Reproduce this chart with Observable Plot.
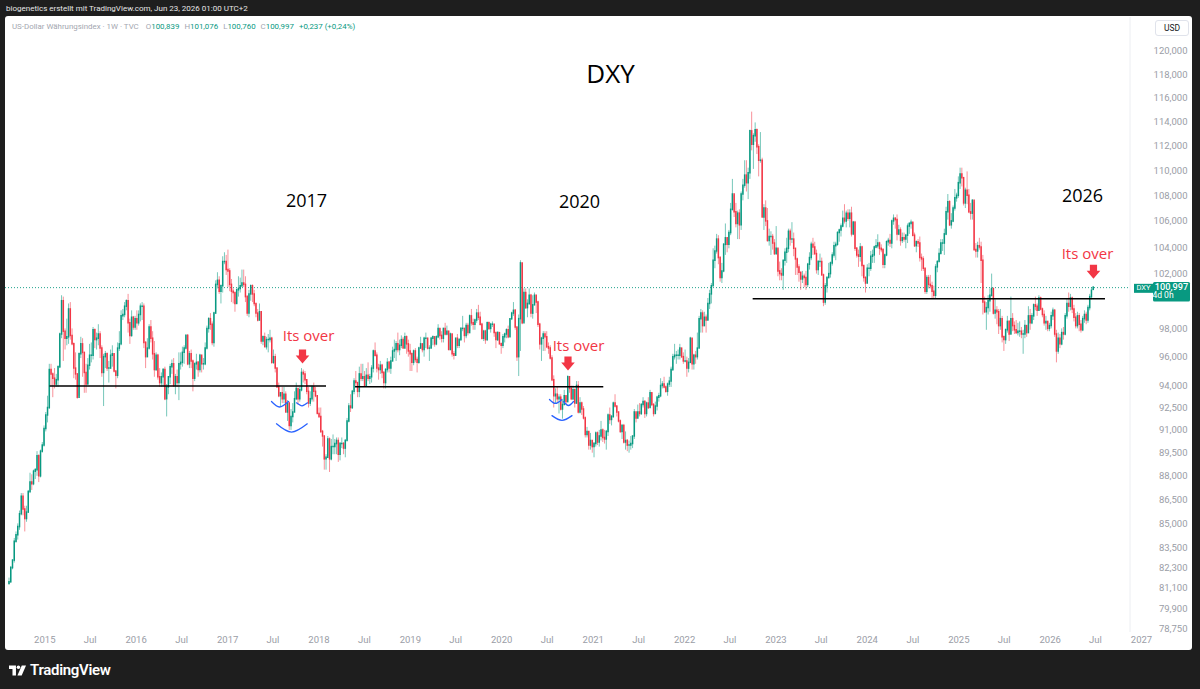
<!DOCTYPE html>
<html><head><meta charset="utf-8">
<script src="https://cdn.jsdelivr.net/npm/d3@7"></script>
<script src="https://cdn.jsdelivr.net/npm/@observablehq/plot@0.6"></script>
<style>
html,body{margin:0;padding:0;}
body{width:1200px;height:689px;background:#1e1e1e;position:relative;overflow:hidden;font-family:Roboto,"Noto Sans",sans-serif;}
#hdr{position:absolute;left:6px;top:3px;font-size:8px;color:#e6e6e6;line-height:12px;white-space:nowrap;}
#panel{position:absolute;left:5px;top:16px;width:1187px;height:634px;background:#fff;border-radius:3px;}
#chart{position:absolute;left:5px;top:14px;}
#legend{position:absolute;left:12px;top:21px;font-size:7.9px;color:#a3a6af;white-space:nowrap;line-height:12px;}
#legend .v{color:#089981;}
#legend .k{margin-left:5px;}
#usd{position:absolute;left:1155px;top:20px;width:34px;height:16px;border:1px solid #e0e3eb;border-radius:3px;background:#fff;font-size:8.5px;color:#131722;text-align:center;line-height:15px;box-sizing:border-box;}
#footer{position:absolute;left:9px;top:660px;height:20px;display:flex;align-items:center;gap:4px;color:#fff;font-size:15px;font-weight:600;letter-spacing:-0.3px;}
</style></head>
<body>
<div id="hdr">biogenetics erstellt mit TradingView.com, Jun 23, 2026 01:00 UTC+2</div>
<div id="panel"></div>
<div id="chart"></div>
<div id="legend"></div>
<div id="usd">USD</div>
<div id="footer"><svg width="17" height="11" viewBox="0 0 22 13"><path d="M0 0h9v13h-4.5v-8.5h-4.5z" fill="#fff"/><circle cx="12.2" cy="2.3" r="2.3" fill="#fff"/><path d="M16.5 0h5.5l-5.6 13h-5.5z" fill="#fff"/></svg><span>TradingView</span></div>
<script>
// ---------- weekly candles (TVC:DXY, 1W), first bar = week of 2014-08-11 ----------
const firstWeek = "2014-08-11";
const open = [
81.35,81.46,82.3,82.75,83.9,84.3,84.8,85.6,86.7,85.9,85.3,85.7,87.0,87.6,87.5,88.3,88.4,89.3,88.0,89.6,90.0,
91.1,92.0,92.5,95.1,94.8,94.5,94.1,94.4,95.3,97.6,100.0,97.8,97.3,97.4,99.4,97.5,96.9,95.2,94.8,93.2,96.2,96.9,96.3,94.9,94.1,95.4,96.1,96.1,97.9,97.2,97.3,97.6,96.6,94.9,96.0,96.2,95.2,95.2,96.1,96.2,95.0,94.7,96.6,96.9,98.9,99.0,99.6,100.0,98.4,97.5,98.8,98.1,
98.7,98.4,99.0,99.6,99.6,97.0,96.0,96.6,98.1,97.3,96.2,95.1,96.1,94.6,94.2,94.6,95.1,93.1,93.9,94.6,95.3,95.5,94.0,94.6,94.2,95.5,95.6,96.3,96.6,97.5,95.5,96.2,95.7,94.5,95.5,95.6,95.1,96.1,95.5,95.5,96.6,98.0,98.7,98.3,97.0,99.1,101.2,101.5,100.7,101.1,102.9,102.9,
102.3,102.2,101.2,100.7,100.6,99.8,100.8,100.9,101.1,101.3,101.2,100.3,99.1,100.5,101.1,100.5,99.8,99.1,98.6,99.2,97.1,97.4,96.7,97.2,97.2,97.3,95.6,96.0,95.2,93.9,93.3,93.5,93.1,93.4,92.2,92.8,91.3,91.9,92.2,93.1,93.8,93.1,93.7,94.9,94.8,94.4,93.6,92.8,93.1,93.9,93.6,93.3,
92.1,91.9,90.9,90.6,89.1,89.2,90.4,89.1,89.9,89.9,90.1,90.3,89.4,90.1,90.1,89.8,90.3,91.6,92.6,92.5,93.6,94.3,94.2,93.6,94.8,94.5,94.6,94.0,94.7,94.5,94.6,95.2,96.4,96.1,95.2,95.1,95.4,94.9,94.2,95.1,95.6,95.2,95.7,96.4,96.5,96.9,96.5,96.8,97.2,96.6,97.4,96.9,96.4,
96.2,95.6,96.4,95.8,95.6,96.6,96.9,96.5,97.3,97.3,96.6,96.6,97.3,97.4,96.9,97.4,98.0,97.5,97.3,98.0,97.6,97.8,96.5,97.6,96.2,96.1,97.3,96.8,97.2,98.0,98.0,97.5,98.2,97.7,98.9,98.4,98.3,98.6,99.1,98.8,98.3,97.3,97.8,97.2,98.4,98.0,98.3,98.3,97.7,97.2,97.7,96.9,
96.8,97.4,97.6,97.9,97.4,98.7,99.1,99.3,98.1,96.0,98.7,102.8,98.4,100.6,99.5,99.8,100.4,99.1,99.7,100.4,99.9,98.3,96.9,97.3,97.6,97.4,96.7,96.6,95.9,94.4,93.3,93.4,93.1,93.2,92.4,92.7,93.3,92.9,94.6,93.8,93.1,93.7,92.8,94.0,92.2,92.8,92.4,91.8,90.7,90.9,90.0,90.3,
89.9,90.1,90.8,90.2,90.6,91.0,90.5,90.4,90.9,92.0,91.7,91.9,92.8,92.6,92.2,91.6,90.9,91.3,90.2,90.3,90.0,90.0,90.1,90.6,92.2,91.8,92.2,92.1,92.7,92.9,92.1,92.8,92.5,93.5,92.7,92.1,92.6,93.2,93.3,94.0,94.1,93.9,93.6,94.1,94.3,95.1,96.0,96.1,96.1,96.1,96.6,96.0,
95.7,95.7,95.2,95.6,97.3,95.5,96.1,96.0,96.6,98.7,99.1,98.2,98.8,98.6,99.8,100.5,101.1,103.0,103.7,104.6,103.2,101.7,102.2,104.2,104.7,104.2,105.1,106.9,108.1,106.7,105.8,106.6,105.7,108.1,108.8,109.6,109.0,109.8,113.2,112.1,112.8,113.3,111.9,110.8,110.8,106.3,107.0,106.0,104.5,104.8,104.8,104.3,
103.5,103.9,102.2,102.0,101.9,103.0,103.6,103.9,105.2,104.6,104.6,103.9,103.1,102.5,102.1,101.6,101.8,101.7,101.2,102.7,103.2,104.2,104.0,103.5,102.3,102.9,102.9,101.9,99.9,101.1,101.7,102.0,102.8,103.4,104.1,104.2,105.1,105.3,105.6,106.2,106.0,106.6,106.2,106.6,105.0,105.9,103.9,103.4,103.3,104.0,102.6,101.7,
101.3,102.4,102.4,103.3,103.4,104.0,104.1,104.3,103.9,103.8,102.7,103.4,104.4,104.5,104.3,106.0,106.2,106.1,105.0,105.3,104.5,104.7,104.6,104.9,105.6,105.8,105.9,104.9,104.1,104.4,104.3,103.2,103.1,102.4,100.7,101.7,101.2,101.1,100.7,100.4,102.5,102.9,103.5,104.3,104.3,105.0,106.7,107.5,105.7,106.0,107.0,107.8,108.0,
109.0,109.7,109.4,107.4,108.4,108.0,106.7,106.6,107.6,103.8,103.7,104.1,104.0,103.0,99.9,99.2,99.5,100.0,100.4,100.9,99.1,99.3,99.2,98.2,98.7,97.4,97.2,97.9,98.5,97.6,98.7,98.2,97.9,97.7,97.8,97.8,97.6,97.6,98.2,97.7,98.9,98.4,98.9,99.7,99.6,99.3,100.2,99.4,99.0,98.4,98.5,98.0,
98.2,98.9,99.3,97.6,96.4,97.3,96.9,97.7,97.6,98.9,99.8,99.6,100.2,99.4,98.8,98.2,98.9,98.3,97.9,98.7,99.0,98.6,99.5,100.3,100.839
];
const high = [
81.7,82.4,82.8,84.1,84.5,85.0,85.8,86.9,86.9,86.1,86.1,87.1,88.2,88.1,88.4,88.5,89.6,89.4,89.7,90.2,91.3,
92.2,93.3,95.5,95.5,94.9,95.2,94.8,95.4,97.7,100.4,100.3,98.0,98.7,99.8,99.9,98.0,97.0,96.3,94.7,96.3,97.4,97.3,96.3,95.5,95.9,96.9,97.0,98.1,98.0,97.7,98.3,97.8,96.8,96.2,96.4,96.3,95.7,96.5,96.8,96.2,95.0,97.0,97.8,99.3,99.4,99.9,100.1,100.5,98.7,99.3,98.9,98.9,
99.3,99.3,99.8,99.9,99.8,97.1,97.3,98.3,98.6,97.8,97.1,96.3,96.2,95.2,94.9,95.2,95.3,94.1,94.6,95.5,95.8,95.9,94.8,95.1,96.3,96.3,96.7,96.8,97.6,97.6,96.4,96.5,95.8,95.6,96.2,95.7,96.2,96.0,95.9,97.0,98.2,98.8,99.1,98.5,99.2,101.5,102.1,101.8,101.2,103.3,103.6,103.4,
103.8,102.4,101.6,100.9,100.6,100.9,101.8,101.7,102.3,102.3,101.8,100.4,100.8,101.2,101.2,100.8,99.8,99.4,99.8,99.2,97.5,97.7,97.4,97.6,97.9,97.4,96.5,96.2,95.2,94.2,93.5,93.9,93.9,93.6,93.0,92.9,92.4,92.8,93.6,94.2,93.8,93.9,95.2,95.1,95.0,94.3,93.9,93.6,94.0,94.2,93.9,93.3,
92.5,92.5,91.0,90.6,89.4,90.6,90.5,90.4,90.7,90.4,90.5,90.5,90.2,90.5,90.2,90.4,91.8,92.8,93.4,93.7,94.5,95.0,94.2,95.3,95.5,95.5,95.0,95.2,95.6,94.8,95.4,96.5,97.0,96.3,95.5,95.7,95.5,95.0,95.2,95.9,95.7,96.0,96.7,97.2,97.1,97.7,97.2,97.5,97.4,97.7,97.5,97.2,96.9,
96.3,96.5,96.6,96.0,96.7,97.4,96.9,97.4,97.7,97.3,96.8,97.4,97.5,97.3,97.5,98.3,98.0,97.8,98.0,98.4,98.2,97.8,97.7,97.6,96.4,97.3,97.6,97.3,98.1,98.9,98.0,98.4,98.4,99.0,99.4,98.7,98.7,99.4,99.7,99.2,98.4,97.9,97.9,98.5,98.5,98.4,98.5,98.3,97.7,97.8,97.7,97.0,
97.6,97.7,98.0,98.2,98.7,99.2,99.9,99.4,98.1,99.0,103.0,102.8,100.9,100.9,100.1,100.9,100.5,100.4,100.6,100.4,100.0,98.4,97.4,97.8,97.8,97.8,97.0,96.8,96.1,94.7,93.8,93.9,93.4,93.4,93.0,93.7,93.3,94.7,94.6,94.0,94.0,93.8,94.3,94.3,93.2,92.9,92.6,91.9,91.2,90.9,90.8,90.3,
90.2,90.9,90.9,91.0,91.6,91.1,91.0,91.0,92.1,92.5,92.0,92.9,93.4,92.6,92.2,91.7,91.4,91.4,90.9,90.4,90.3,90.6,90.6,92.4,92.1,92.7,92.8,92.8,93.2,93.0,92.9,93.2,93.7,93.5,92.8,92.9,93.3,93.5,94.5,94.3,94.6,94.0,94.2,94.6,95.3,96.2,96.9,96.4,96.5,96.9,96.6,96.3,
96.5,96.0,95.9,97.4,97.3,96.2,96.4,97.7,98.9,99.4,99.3,99.2,99.0,100.2,100.8,101.3,103.9,104.1,105.0,104.9,103.3,102.8,104.3,105.8,104.7,105.3,107.4,109.3,108.0,107.4,106.8,106.9,108.3,109.3,110.8,110.8,110.2,113.3,114.8,113.0,113.9,113.4,112.1,113.1,111.0,107.3,107.6,107.0,105.4,105.2,105.0,104.6,
105.6,103.9,102.9,102.4,103.0,103.9,104.7,105.4,105.4,105.9,105.1,103.9,103.2,102.7,102.1,102.2,102.0,102.2,102.8,103.6,104.4,104.7,104.4,103.8,103.0,103.5,103.2,102.0,101.3,101.8,102.8,102.9,103.6,104.4,104.4,105.2,105.4,105.8,106.8,107.3,106.8,106.9,106.9,107.1,106.0,106.0,104.0,103.8,104.3,104.1,102.6,101.8,
102.7,102.8,103.7,103.8,104.1,104.6,104.97,104.4,104.2,103.9,103.5,104.5,104.7,105.0,106.1,106.5,106.3,106.5,105.7,105.5,105.1,105.1,105.0,105.8,105.9,106.1,105.9,105.1,104.5,104.6,104.8,103.5,103.3,102.4,101.9,101.9,101.9,101.4,101.1,102.7,103.0,103.9,104.6,104.6,105.4,107.1,108.1,107.6,106.6,107.2,108.5,108.2,109.5,
110.2,110.2,109.4,108.6,109.9,108.5,107.4,107.7,107.5,104.3,104.4,104.7,104.4,103.4,100.3,99.9,100.4,100.9,102.0,100.4,100.1,99.6,99.4,99.4,98.9,97.5,98.0,98.9,98.6,100.3,99.1,98.5,98.6,98.4,98.5,98.1,97.9,98.6,98.1,99.6,99.4,99.1,99.8,100.3,99.8,100.4,100.3,99.5,99.3,98.9,98.5,98.4,
99.2,99.5,99.4,97.9,97.7,97.6,98.0,98.1,99.1,100.2,100.6,100.5,100.3,99.7,99.1,99.2,99.1,98.6,98.9,99.3,99.2,99.7,100.5,101.0,101.076
];
const low = [
81.3,81.4,82.2,82.6,83.8,84.0,84.6,85.5,85.5,84.5,85.1,85.7,86.9,87.1,87.4,87.8,88.0,87.6,87.9,89.5,89.9,
90.9,91.5,92.4,94.0,93.2,93.8,93.9,93.9,95.2,97.3,95.7,96.5,96.8,96.9,97.2,96.8,94.5,94.4,93.1,93.3,95.9,94.6,93.5,93.5,94.1,95.1,95.6,95.8,96.6,96.5,96.8,95.9,94.6,92.6,95.2,95.0,94.2,95.2,95.3,94.9,93.8,94.5,96.4,96.8,98.6,98.8,99.3,97.7,96.9,97.4,97.9,97.9,
97.9,98.2,98.5,98.6,96.6,95.2,96.0,96.5,97.0,95.8,94.6,95.0,94.4,93.9,93.9,93.9,93.0,91.9,93.4,94.1,94.8,93.9,93.4,93.9,93.0,95.1,95.3,95.5,96.5,95.4,95.2,95.2,93.6,94.3,95.1,94.6,94.9,94.9,95.1,95.4,96.5,97.7,97.9,96.8,96.7,99.2,100.9,100.5,99.8,100.6,102.7,101.9,
101.0,100.7,99.9,99.8,99.2,99.8,100.3,100.6,101.0,101.0,99.9,98.9,98.8,100.0,99.9,99.6,98.8,98.5,98.6,96.9,96.8,96.7,96.5,96.3,97.0,95.5,95.5,94.9,93.9,93.2,92.6,92.8,92.8,92.2,91.6,91.0,91.0,91.5,92.2,93.0,92.7,92.9,93.6,94.2,94.1,93.4,92.5,92.6,92.9,92.9,93.2,92.1,
91.8,90.8,89.9,88.4,88.4,89.3,88.25,89.0,89.4,89.4,89.4,88.9,89.0,89.8,89.4,89.2,90.3,91.5,92.2,92.4,93.4,93.9,93.2,93.2,94.3,94.3,93.9,93.9,94.3,94.1,94.2,94.9,96.0,94.9,94.4,94.8,94.5,93.8,93.8,94.9,94.9,94.8,95.7,95.9,95.7,96.3,96.1,96.6,96.6,96.9,96.2,96.0,95.0,
95.0,95.4,95.6,94.9,95.5,96.6,96.3,96.0,96.6,96.5,95.7,96.6,96.8,96.7,96.8,97.3,97.2,97.0,97.0,97.5,97.5,96.5,96.5,96.0,95.8,96.1,96.6,96.6,97.1,97.8,97.0,97.3,97.5,97.8,98.2,97.9,97.9,98.4,98.6,98.2,97.2,97.1,96.9,97.1,97.9,97.7,98.1,97.4,96.6,97.1,96.9,96.2,
96.6,97.0,97.3,97.3,97.4,98.6,98.9,97.9,95.7,94.65,96.4,98.3,98.5,99.4,98.8,99.7,98.8,98.7,99.8,99.1,98.1,96.5,95.7,96.4,96.4,96.6,96.2,95.8,94.3,92.5,92.8,92.8,92.1,92.3,91.75,92.7,92.7,93.0,93.5,93.0,93.0,92.5,92.8,92.1,92.1,92.0,91.7,90.5,90.5,89.7,89.7,89.5,
89.2,89.9,90.0,89.9,90.3,90.2,90.1,89.7,90.6,91.4,91.3,91.8,92.5,91.9,91.5,90.8,90.4,90.1,89.7,89.6,89.5,89.7,89.8,90.4,91.5,91.9,91.9,92.0,92.5,91.8,91.9,92.4,92.5,92.6,91.9,92.2,92.3,92.9,93.2,93.8,93.8,93.5,93.3,93.9,93.9,95.0,95.8,95.5,95.8,95.8,95.9,95.5,
95.6,94.6,94.9,95.6,95.1,95.1,95.5,95.8,96.6,97.7,97.7,98.2,97.7,98.6,99.4,99.8,101.1,102.4,103.5,102.7,101.4,101.3,102.1,103.4,103.6,103.9,104.9,106.8,106.3,105.5,104.6,104.6,105.3,107.6,108.6,108.3,107.7,109.3,111.6,110.1,112.3,111.3,109.5,110.6,106.3,105.3,105.6,104.4,104.1,103.4,103.8,103.4,
103.4,101.8,101.5,101.5,100.8,102.6,102.8,103.6,104.1,104.3,103.3,101.9,101.9,101.4,100.8,101.3,101.0,100.8,101.0,102.3,103.0,103.4,103.4,102.0,101.9,102.5,101.9,99.6,99.7,100.6,101.7,101.7,102.6,103.2,103.0,104.1,104.4,104.8,105.5,105.8,105.5,106.0,105.5,104.8,104.9,103.7,103.2,102.5,102.9,101.8,101.4,100.6,
101.3,101.8,102.2,102.8,102.8,103.9,103.9,103.4,103.6,102.4,102.4,103.3,104.1,104.0,103.9,105.7,105.4,104.5,104.9,104.1,104.3,104.4,103.9,104.3,105.0,105.4,104.8,104.0,103.6,104.0,102.9,102.2,102.2,100.5,100.5,100.9,100.9,100.2,100.2,100.2,102.1,102.9,103.5,103.7,103.4,104.9,106.1,105.6,105.4,105.9,106.8,107.5,107.8,
108.5,108.7,107.2,107.0,107.3,106.6,106.1,106.1,103.7,103.2,103.2,103.8,101.3,99.0,99.1,97.9,99.0,99.2,100.3,99.0,98.7,98.3,97.6,97.9,97.0,96.4,96.9,97.7,97.1,97.6,97.8,97.6,97.6,97.5,97.4,97.3,96.2,97.3,97.4,97.7,97.9,98.3,98.6,99.3,98.9,99.3,99.3,98.8,98.2,97.9,97.8,97.8,
98.0,98.6,97.4,95.6,96.2,96.6,96.8,97.2,97.5,98.7,99.2,99.3,99.1,98.5,98.0,98.0,97.8,97.7,97.8,98.4,98.3,98.4,99.3,100.1,100.76
];
const close = [
81.46,82.3,82.75,83.9,84.3,84.8,85.6,86.7,85.9,85.3,85.7,87.0,87.6,87.5,88.3,88.4,89.3,88.0,89.6,90.0,91.1,
92.0,92.5,95.1,94.8,94.5,94.1,94.4,95.3,97.6,100.0,97.8,97.3,97.4,99.4,97.5,96.9,95.2,94.8,93.2,96.2,96.9,96.3,94.9,94.1,95.4,96.1,96.1,97.9,97.2,97.3,97.6,96.6,94.9,96.0,96.2,95.2,95.2,96.1,96.2,95.0,94.7,96.6,96.9,98.9,99.0,99.6,100.0,98.4,97.5,98.8,98.1,98.7,
98.4,99.0,99.6,99.6,97.0,96.0,96.6,98.1,97.3,96.2,95.1,96.1,94.6,94.2,94.6,95.1,93.1,93.9,94.6,95.3,95.5,94.0,94.6,94.2,95.5,95.6,96.3,96.6,97.5,95.5,96.2,95.7,94.5,95.5,95.6,95.1,96.1,95.5,95.5,96.6,98.0,98.7,98.3,97.0,99.1,101.2,101.5,100.7,101.1,102.9,102.9,102.3,
102.2,101.2,100.7,100.6,99.8,100.8,100.9,101.1,101.3,101.2,100.3,99.1,100.5,101.1,100.5,99.8,99.1,98.6,99.2,97.1,97.4,96.7,97.2,97.2,97.3,95.6,96.0,95.2,93.9,93.3,93.5,93.1,93.4,92.2,92.8,91.3,91.9,92.2,93.1,93.8,93.1,93.7,94.9,94.8,94.4,93.6,92.8,93.1,93.9,93.6,93.3,92.1,
91.9,90.9,90.6,89.1,89.2,90.4,89.1,89.9,89.9,90.1,90.3,89.4,90.1,90.1,89.8,90.3,91.6,92.6,92.5,93.6,94.3,94.2,93.6,94.8,94.5,94.6,94.0,94.7,94.5,94.6,95.2,96.4,96.1,95.2,95.1,95.4,94.9,94.2,95.1,95.6,95.2,95.7,96.4,96.5,96.9,96.5,96.8,97.2,96.6,97.4,96.9,96.4,96.2,
95.6,96.4,95.8,95.6,96.6,96.9,96.5,97.3,97.3,96.6,96.6,97.3,97.4,96.9,97.4,98.0,97.5,97.3,98.0,97.6,97.8,96.5,97.6,96.2,96.1,97.3,96.8,97.2,98.0,98.0,97.5,98.2,97.7,98.9,98.4,98.3,98.6,99.1,98.8,98.3,97.3,97.8,97.2,98.4,98.0,98.3,98.3,97.7,97.2,97.7,96.9,96.8,
97.4,97.6,97.9,97.4,98.7,99.1,99.3,98.1,96.0,98.7,102.8,98.4,100.6,99.5,99.8,100.4,99.1,99.7,100.4,99.9,98.3,96.9,97.3,97.6,97.4,96.7,96.6,95.9,94.4,93.3,93.4,93.1,93.2,92.4,92.7,93.3,92.9,94.6,93.8,93.1,93.7,92.8,94.0,92.2,92.8,92.4,91.8,90.7,90.9,90.0,90.3,89.9,
90.1,90.8,90.2,90.6,91.0,90.5,90.4,90.9,92.0,91.7,91.9,92.8,92.6,92.2,91.6,90.9,91.3,90.2,90.3,90.0,90.0,90.1,90.6,92.2,91.8,92.2,92.1,92.7,92.9,92.1,92.8,92.5,93.5,92.7,92.1,92.6,93.2,93.3,94.0,94.1,93.9,93.6,94.1,94.3,95.1,96.0,96.1,96.1,96.1,96.6,96.0,95.7,
95.7,95.2,95.6,97.3,95.5,96.1,96.0,96.6,98.7,99.1,98.2,98.8,98.6,99.8,100.5,101.1,103.0,103.7,104.6,103.2,101.7,102.2,104.2,104.7,104.2,105.1,106.9,108.1,106.7,105.8,106.6,105.7,108.1,108.8,109.6,109.0,109.8,113.2,112.1,112.8,113.3,111.9,110.8,110.8,106.3,107.0,106.0,104.5,104.8,104.8,104.3,103.5,
103.9,102.2,102.0,101.9,103.0,103.6,103.9,105.2,104.6,104.6,103.9,103.1,102.5,102.1,101.6,101.8,101.7,101.2,102.7,103.2,104.2,104.0,103.5,102.3,102.9,102.9,101.9,99.9,101.1,101.7,102.0,102.8,103.4,104.1,104.2,105.1,105.3,105.6,106.2,106.0,106.6,106.2,106.6,105.0,105.9,103.9,103.4,103.3,104.0,102.6,101.7,101.3,
102.4,102.4,103.3,103.4,104.0,104.1,104.3,103.9,103.8,102.7,103.4,104.4,104.5,104.3,106.0,106.2,106.1,105.0,105.3,104.5,104.7,104.6,104.9,105.6,105.8,105.9,104.9,104.1,104.4,104.3,103.2,103.1,102.4,100.7,101.7,101.2,101.1,100.7,100.4,102.5,102.9,103.5,104.3,104.3,105.0,106.7,107.5,105.7,106.0,107.0,107.8,108.0,109.0,
109.7,109.4,107.4,108.4,108.0,106.7,106.6,107.6,103.8,103.7,104.1,104.0,103.0,99.9,99.2,99.5,100.0,100.4,100.9,99.1,99.3,99.2,98.2,98.7,97.4,97.2,97.9,98.5,97.6,98.7,98.2,97.9,97.7,97.8,97.8,97.6,97.6,98.2,97.7,98.9,98.4,98.9,99.7,99.6,99.3,100.2,99.4,99.0,98.4,98.5,98.0,98.2,
98.9,99.3,97.6,96.4,97.3,96.9,97.7,97.6,98.9,99.8,99.6,100.2,99.4,98.8,98.2,98.9,98.3,97.9,98.7,99.0,98.6,99.5,100.3,100.76,100.997
];

// ---------- axes (100,000 sits under the last-price badge and is not shown) ----------
const priceTicks = [120,118,116,114,112,110,108,106,104,102,98,96,94,92.5,91,89.5,88,86.5,85,83.5,82.3,81.1,79.9,78.75];
const timeTickDates = ["2015-01-01","2015-07-01","2016-01-01","2016-07-01","2017-01-01","2017-07-01","2018-01-01","2018-07-01","2019-01-01","2019-07-01","2020-01-01","2020-07-01","2021-01-01","2021-07-01","2022-01-01","2022-07-01","2023-01-01","2023-07-01","2024-01-01","2024-07-01","2025-01-01","2025-07-01","2026-01-01","2026-07-01","2027-01-01"];
const timeTickLabels = ["2015","Jul","2016","Jul","2017","Jul","2018","Jul","2019","Jul","2020","Jul","2021","Jul","2022","Jul","2023","Jul","2024","Jul","2025","Jul","2026","Jul","2027"];

// ---------- drawings (anchored in time / price) ----------
const titleText = ["DXY"]; const titleDate = ["2021-03-11"]; const titlePrice = [118.0];
const yearText = ["2017","2020","2026"];
const yearDate = ["2017-11-12","2020-11-07","2026-05-10"];
const yearPrice = [107.6, 107.5, 108.0];
const warnText = ["Its over","Its over","Its over"];
const warnDate = ["2017-11-20","2020-11-03","2026-05-30"];
const warnPrice = [97.5, 96.8, 103.5];
const arrowDate = ["2017-10-27","2020-09-22","2026-06-23"];
const arrowPrice = [95.55, 95.07, 101.66];
const levelStart = ["2015-01-22","2018-05-27","2022-10-02"];
const levelEnd = ["2018-01-31","2021-02-12","2026-08-10"];
const levelPrice = [94.0, 93.95, 100.18];
const arcId = ["a","a","a","b","b","b","c","c","c","d","d","d","e","e","e","f","f","f"];
const arcDate = ["2017-06-25","2017-07-27","2017-09-01","2017-10-03","2017-10-25","2017-11-16","2017-07-15","2017-09-13","2017-11-15",
                 "2020-07-10","2020-08-03","2020-08-29","2020-09-04","2020-09-24","2020-10-14","2020-07-20","2020-08-29","2020-10-08"];
const arcPrice = [92.94,92.57,92.94, 92.85,92.65,92.85, 91.44,90.89,91.44, 93.08,92.81,93.08, 92.94,92.67,92.94, 91.99,91.67,91.99];

// ---------- build ----------
const UP = "#089981", DOWN = "#f23645";
const t0 = new Date(firstWeek + "T00:00:00Z");
const candles = close.map((c, i) => ({date: d3.utcDay.offset(t0, 7 * i), open: open[i], high: high[i], low: low[i], close: c}));
const col = d => d.close >= d.open ? UP : DOWN;
const D = s => new Date(s + "T00:00:00Z");
const last = candles[candles.length - 1];
const prev = candles[candles.length - 2];
const fmt = v => v.toFixed(3).replace(".", ",");

const arrowShape = {draw(ctx, l) {
  ctx.moveTo(-3.6, 0); ctx.lineTo(-3.6, -6); ctx.lineTo(-6.8, -6); ctx.lineTo(0, -l);
  ctx.lineTo(6.8, -6); ctx.lineTo(3.6, -6); ctx.lineTo(3.6, 0); ctx.closePath();
}};

const annoFont = "'Open Sans', 'Noto Sans', sans-serif";
const chart = Plot.plot({
  width: 1187, height: 636,
  marginLeft: 0, marginRight: 62, marginTop: 0, marginBottom: 18,
  style: {background: "transparent", fontFamily: "Roboto, 'Noto Sans', sans-serif", overflow: "visible"},
  x: {type: "utc", domain: [D("2014-07-28"), D("2026-11-18")], axis: null},
  y: {type: "log", domain: [78.52, 123.28], axis: null},
  marks: [
    Plot.ruleY([last.close], {stroke: UP, strokeWidth: 1, strokeDasharray: "1,2", strokeOpacity: 0.9}),
    Plot.ruleX(candles, {x: "date", y1: "low", y2: "high", stroke: col, strokeWidth: 1, strokeOpacity: 0.55}),
    Plot.ruleX(candles, {x: "date", y1: "open", y2: "close", stroke: col, strokeWidth: 1.5, strokeLinecap: "square"}),
    Plot.ruleY(levelPrice, {y: d => d, x1: (d, i) => D(levelStart[i]), x2: (d, i) => D(levelEnd[i]), stroke: "#000", strokeWidth: 1.6}),
    Plot.line(arcPrice, {x: (d, i) => D(arcDate[i]), y: d => d, z: (d, i) => arcId[i], curve: "natural", stroke: "#2962ff", strokeWidth: 1.3}),
    Plot.text(titleText, {x: (d, i) => D(titleDate[i]), y: (d, i) => titlePrice[i], text: d => d, fontSize: 26, fill: "#000", fontFamily: annoFont}),
    Plot.text(yearText, {x: (d, i) => D(yearDate[i]), y: (d, i) => yearPrice[i], text: d => d, fontSize: 18, fill: "#000", fontFamily: annoFont}),
    Plot.text(warnText, {x: (d, i) => D(warnDate[i]), y: (d, i) => warnPrice[i], text: d => d, fontSize: 15, fill: DOWN, fontFamily: annoFont}),
    Plot.vector(arrowPrice, {x: (d, i) => D(arrowDate[i]), y: d => d, length: 14, rotate: 180, anchor: "end", shape: arrowShape, fill: DOWN, stroke: "none"}),
    // price scale labels (right-aligned)
    Plot.text(priceTicks, {y: d => d, text: fmt, frameAnchor: "right", dx: 57, textAnchor: "end", fontSize: 9.5, fill: "#9a9da6"}),
    // time scale labels
    Plot.text(timeTickDates, {x: d => D(d), text: (d, i) => timeTickLabels[i], frameAnchor: "bottom", dy: 10, fontSize: 9.5, fill: "#9a9da6"}),
  ]
});
document.getElementById("chart").appendChild(chart);

// last-price badge on the price scale, placed through the y scale
const svg = d3.select(chart);
const yy = chart.scale("y").apply(last.close);
const xr = 1125;
svg.append("line").attr("x1", xr).attr("x2", xr).attr("y1", 3).attr("y2", 618).attr("stroke", "#eceef2");
const g = svg.append("g");
g.append("rect").attr("x", xr + 23).attr("y", yy - 5.2).attr("width", 37).attr("height", 19.5).attr("rx", 1.5).attr("fill", UP);
g.append("text").attr("x", xr + 41.5).attr("y", yy + 0.2).attr("text-anchor", "middle").attr("dominant-baseline", "middle")
  .attr("fill", "#fff").attr("font-size", 9.2).attr("font-weight", 500).text(fmt(last.close));
g.append("text").attr("x", xr + 33).attr("y", yy + 9).attr("text-anchor", "middle").attr("dominant-baseline", "middle")
  .attr("fill", "#fff").attr("font-size", 8.5).text("4d 0h");
g.append("rect").attr("x", xr + 4).attr("y", yy - 3.3).attr("width", 19).attr("height", 9).attr("fill", UP);
g.append("text").attr("x", xr + 13.5).attr("y", yy + 1.3).attr("text-anchor", "middle").attr("dominant-baseline", "middle")
  .attr("fill", "#fff").attr("font-size", 7.5).text("DXY");

// legend (values from the last candle)
const chg = last.close - prev.close;
const pct = chg / prev.close * 100;
const c2 = v => v.toFixed(2).replace(".", ",");
document.getElementById("legend").innerHTML =
  `US-Dollar Währungsindex · 1W · TVC<span class="k" style="margin-left:7px">O</span><span class="v">${fmt(last.open)}</span><span class="k">H</span><span class="v">${fmt(last.high)}</span><span class="k">L</span><span class="v">${fmt(last.low)}</span><span class="k">C</span><span class="v">${fmt(last.close)}</span><span class="v k">${chg >= 0 ? "+" : ""}${fmt(chg)} (${chg >= 0 ? "+" : ""}${c2(pct)}%)</span>`;
</script>
</body></html>
